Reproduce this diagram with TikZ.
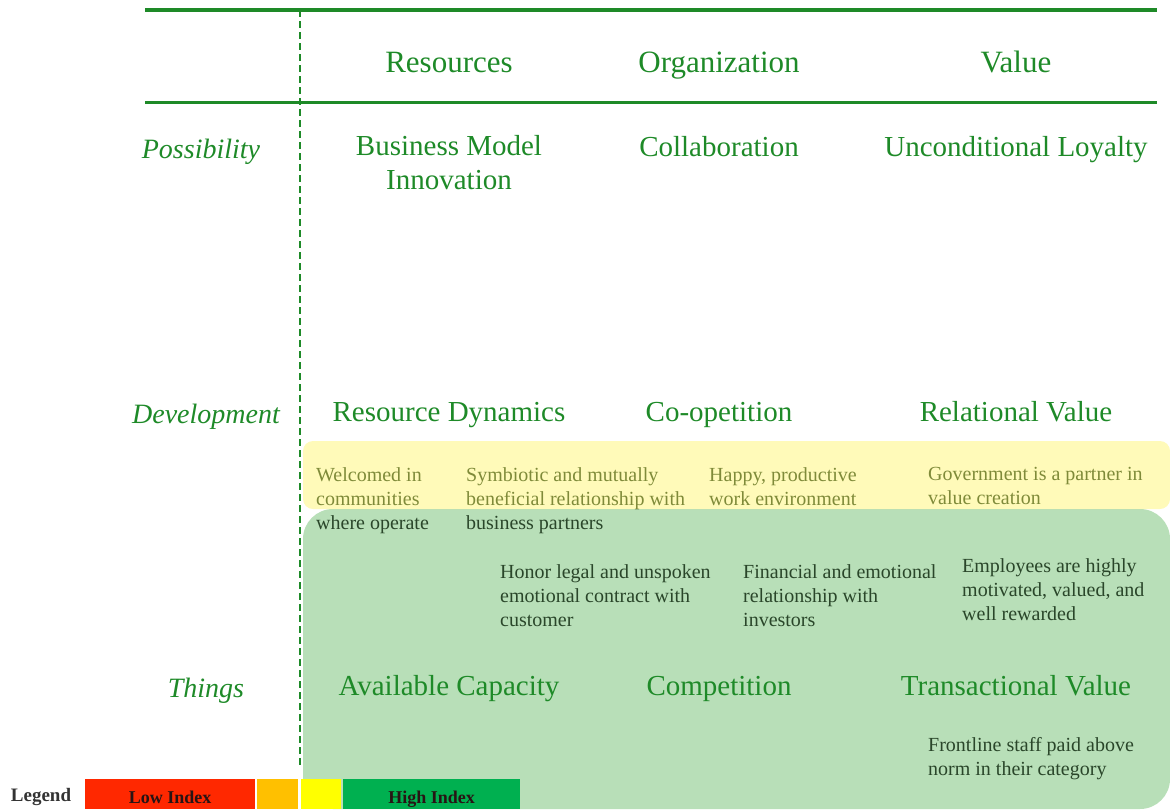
\documentclass[tikz,border=0pt]{standalone}
\usepackage{fontspec}
\setmainfont{Liberation Serif}
\definecolor{maingreen}{RGB}{30,138,40}
\definecolor{notetext}{RGB}{42,70,42}
\definecolor{boxgreen}{RGB}{184,223,184}
\definecolor{bandyellow}{RGB}{255,242,80}
\definecolor{legred}{RGB}{255,40,0}
\definecolor{legorange}{RGB}{255,192,0}
\definecolor{legyellow}{RGB}{255,255,0}
\definecolor{leggreen}{RGB}{0,176,80}
\definecolor{legtext}{RGB}{40,20,20}
\begin{document}
\begin{tikzpicture}[x=1pt,y=-1pt,
  big/.style={font=\fontsize{29}{34}\selectfont, text=maingreen, anchor=base, inner sep=0pt, align=center},
  head/.style={big, font=\fontsize{31}{36}\selectfont},
  rowlab/.style={font=\fontsize{28}{34}\itshape\selectfont, text=maingreen, anchor=base, inner sep=0pt},
  note/.style={font=\fontsize{20}{24}\selectfont, text=notetext, anchor=north west, inner sep=0pt, align=left},
  legbox/.style={minimum height=30pt, inner sep=0pt, anchor=north west, text height=19pt, text depth=0pt,
    font=\fontsize{18}{20}\bfseries\selectfont, text=legtext},
  rule/.style={draw=maingreen, line cap=butt},
]
\useasboundingbox (0,0) rectangle (1170,809);

% background panel for the "Things" level
\fill[boxgreen, rounded corners=30pt] (303,509) rectangle (1170,809);

% header rules and column separator
\coordinate (topL) at (145,10);
\coordinate (topR) at (1157,10);
\coordinate (midL) at (145,102);
\coordinate (midR) at (1157,102);
\coordinate (sepT) at (300,10);
\coordinate (sepB) at (300,765);
\draw[rule, line width=4pt] (topL) -- (topR);
\draw[rule, line width=3pt] (midL) -- (midR);
\draw[draw=maingreen, line width=2pt, dash pattern=on 7pt off 4pt] (sepT) -- (sepB);

% column headers
\node[head] (hRes) at (449,72) {Resources};
\node[head] (hOrg) at (719,72) {Organization};
\node[head] (hVal) at (1016,72) {Value};

% row labels
\node[rowlab] (rPos) at (201,158) {Possibility};
\node[rowlab] (rDev) at (206,423) {Development};
\node[rowlab] (rThi) at (206,697) {Things};

% possibility row
\node[big, anchor=north] (pRes) at (449,135) {Business Model\\Innovation};
\node[big] (pOrg) at (719,156) {Collaboration};
\node[big] (pVal) at (1016,156) {Unconditional Loyalty};

% development row
\node[big] (dRes) at (449,421) {Resource Dynamics};
\node[big] (dOrg) at (719,421) {Co-opetition};
\node[big] (dVal) at (1016,421) {Relational Value};

% things row
\node[big] (tRes) at (449,695) {Available Capacity};
\node[big] (tOrg) at (719,695) {Competition};
\node[big] (tVal) at (1016,695) {Transactional Value};

% notes
\node[note] (n1) at (316,467) {Welcomed in\\communities\\where operate};
\node[note] (n2) at (466,467) {Symbiotic and mutually\\beneficial relationship with\\business partners};
\node[note] (n3) at (709,467) {Happy, productive\\work environment};
\node[note] (n4) at (928,467) {Government is a partner in\\value creation};
\node[note] (n5) at (500,564) {Honor legal and unspoken\\emotional contract with\\customer};
\node[note] (n6) at (743,564) {Financial and emotional\\relationship with\\investors};
\node[note] (n7) at (962,558) {Employees are highly\\motivated, valued, and\\well rewarded};
\node[note] (n8) at (928,737) {Frontline staff paid above\\norm in their category};

% translucent band for the "Development" level
\fill[bandyellow, fill opacity=0.4, rounded corners=10pt] (303,441) rectangle (1170,509);

% legend
\node[font=\fontsize{19}{22}\bfseries\selectfont, text=black!80, inner sep=0pt] (legLab) at (41,797) {Legend};
\node[legbox, fill=legred, minimum width=170pt] (legLow) at (85,779) {Low Index};
\node[legbox, fill=legorange, minimum width=41pt] (legMid) at (257,779) {};
\node[legbox, fill=legyellow, minimum width=40pt] (legHi) at (301,779) {};
\node[legbox, fill=leggreen, minimum width=177pt] (legHigh) at (343,779) {High Index};
\end{tikzpicture}
\end{document}
